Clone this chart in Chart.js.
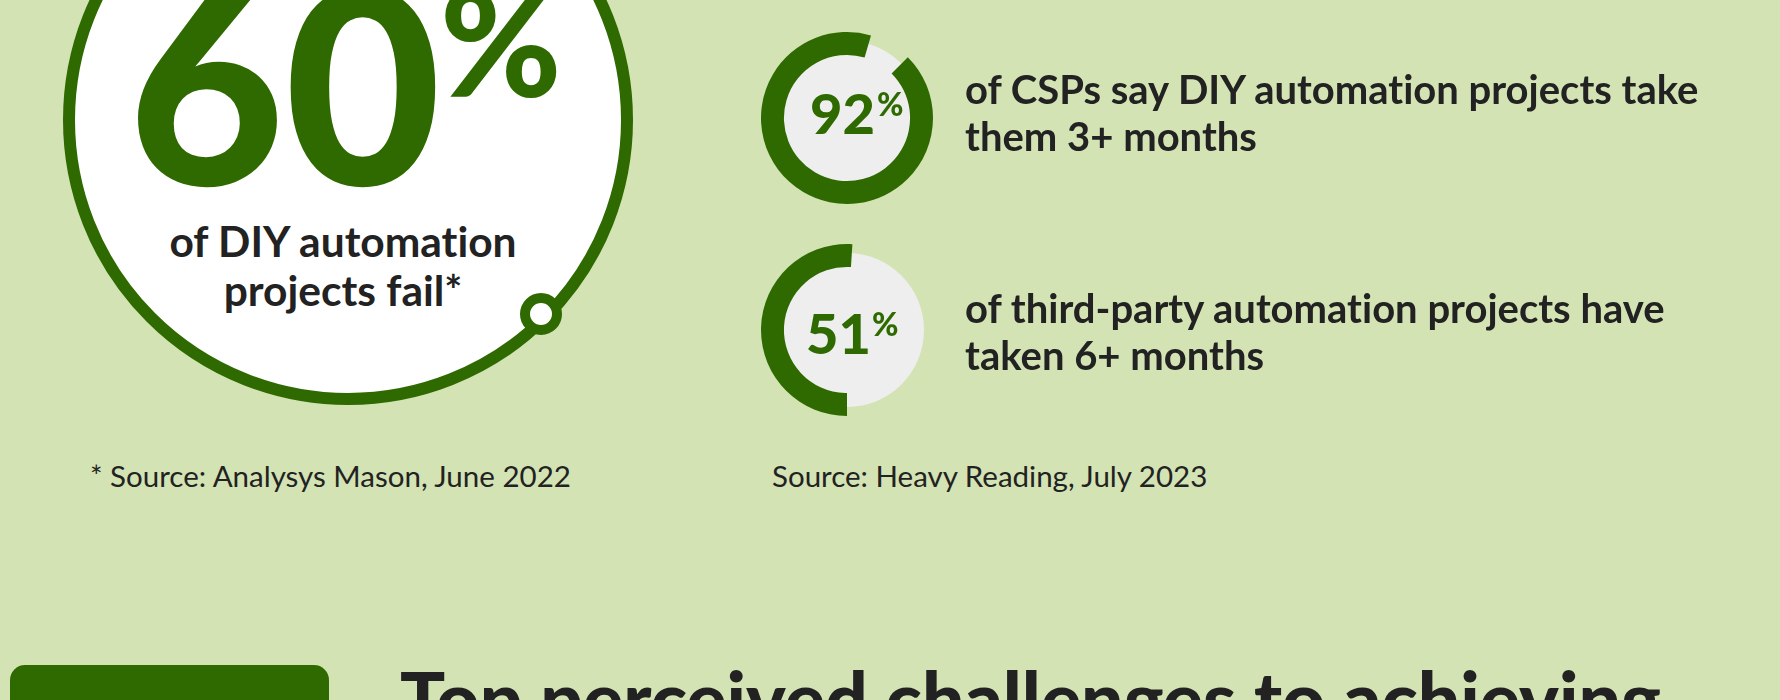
<!DOCTYPE html>
<html>
<head>
<meta charset="utf-8">
<script src="https://cdn.jsdelivr.net/npm/chart.js@4.4.1/dist/chart.umd.min.js"></script>
<style>
  body { margin: 0; width: 1780px; height: 700px; overflow: hidden; position: relative;
         background: #d3e3b4; font-family: Lato, "Noto Sans", sans-serif; color: #222;
         font-variant-ligatures: none; }
  .abs { position: absolute; white-space: nowrap; }
  .bigRing { left: 63px; top: -165px; width: 570px; height: 570px; box-sizing: border-box;
             border: 12px solid #2e6a00; border-radius: 50%; background: #fff; }
  .dot { left: 520px; top: 293px; width: 42px; height: 42px; box-sizing: border-box;
         border: 10px solid #2e6a00; border-radius: 50%; background: #fff; }
  .bigNum { left: 128px; top: -54px; font-size: 270px; line-height: 270px; font-weight: 900; color: #2e6a00; }
  .bigPct { left: 440px; top: -33px; font-size: 147px; line-height: 147px; font-weight: 900; color: #2e6a00; }
  .bigLabel { left: 143px; width: 400px; top: 216px; font-size: 42.5px; line-height: 49px; font-weight: 700; text-align: center; white-space: normal; }
  .ringNum { font-size: 56px; line-height: 56px; font-weight: 900; color: #2e6a00; }
  .ringPct { font-size: 32px; line-height: 32px; font-weight: 900; color: #2e6a00; }
  .statText { left: 965px; font-size: 40px; line-height: 47px; font-weight: 700; }
  .source { top: 461px; font-size: 29.5px; line-height: 29.5px; }
  .badge { left: 10px; top: 665px; width: 319px; height: 80px; border-radius: 15px; background: #2e6a00; }
  .title { left: 400px; top: 660px; font-size: 75px; line-height: 75px; font-weight: 900; }
  canvas.ring { position: absolute; }
</style>
</head>
<body>
<div class="abs bigRing"></div>
<div class="abs dot"></div>
<div id="root"></div>

<script>
// headline stat
const headValue = 60;
const headLabel = ["of DIY automation", "projects fail*"];

// ring stats
const ringValues = [92, 51];
const ringLabels = [
  ["of CSPs say DIY automation projects take", "them 3+ months"],
  ["of third-party automation projects have", "taken 6+ months"]
];
const sources = ["* Source: Analysys Mason, June 2022", "Source: Heavy Reading, July 2023"];
const titleText = "Top perceived challenges to achieving";

const GREEN = "#2e6a00";
const root = document.getElementById("root");

function addDiv(cls, text, style) {
  const d = document.createElement("div");
  d.className = "abs " + cls;
  if (Array.isArray(text)) d.innerHTML = text.join("<br>");
  else d.textContent = text;
  Object.assign(d.style, style || {});
  root.appendChild(d);
  return d;
}

// big 60% circle text
addDiv("bigNum", String(headValue));
addDiv("bigPct", "%");
addDiv("bigLabel", headLabel);

// ring layout (centre y, start rotation, number position)
const ringPos = [
  { cy: 118, rot: 45, numTop: 85, numLeft: 810, pctTop: 88, pctLeft: 877, textTop: 66 },
  { cy: 330, rot: 180, numTop: 305, numLeft: 806, pctTop: 308, pctLeft: 872, textTop: 285 }
];

// grey disc behind the arc
const innerDisc = {
  id: "innerDisc",
  beforeDatasetsDraw(chart) {
    const arc = chart.getDatasetMeta(0).data[0];
    const ctx = chart.ctx;
    ctx.save();
    ctx.beginPath();
    ctx.arc(arc.x, arc.y, 77, 0, Math.PI * 2);
    ctx.fillStyle = "#eeeeee";
    ctx.fill();
    ctx.restore();
  }
};

ringValues.forEach((v, i) => {
  const p = ringPos[i];
  const cv = document.createElement("canvas");
  cv.className = "ring";
  cv.width = 180; cv.height = 180;
  cv.style.left = (847 - 90) + "px";
  cv.style.top = (p.cy - 90) + "px";
  cv.style.width = "180px"; cv.style.height = "180px";
  root.appendChild(cv);

  new Chart(cv.getContext("2d"), {
    type: "doughnut",
    data: {
      labels: ["share", "rest"],
      datasets: [{ data: [v, 100 - v], backgroundColor: [GREEN, "rgba(0,0,0,0)"], borderWidth: 0 }]
    },
    options: {
      responsive: false,
      animation: false,
      events: [],
      rotation: p.rot,
      radius: 86,
      cutout: 66,
      layout: { padding: 0 },
      plugins: { legend: { display: false }, tooltip: { enabled: false } }
    },
    plugins: [innerDisc]
  });

  addDiv("ringNum", String(v), { top: p.numTop + "px", left: p.numLeft + "px" });
  addDiv("ringPct", "%", { top: p.pctTop + "px", left: p.pctLeft + "px" });
  addDiv("statText", ringLabels[i], { top: p.textTop + "px" });
});

addDiv("source", sources[0], { left: "90px" });
addDiv("source", sources[1], { left: "772px" });

addDiv("badge", "");
addDiv("title", titleText);
</script>
</body>
</html>
